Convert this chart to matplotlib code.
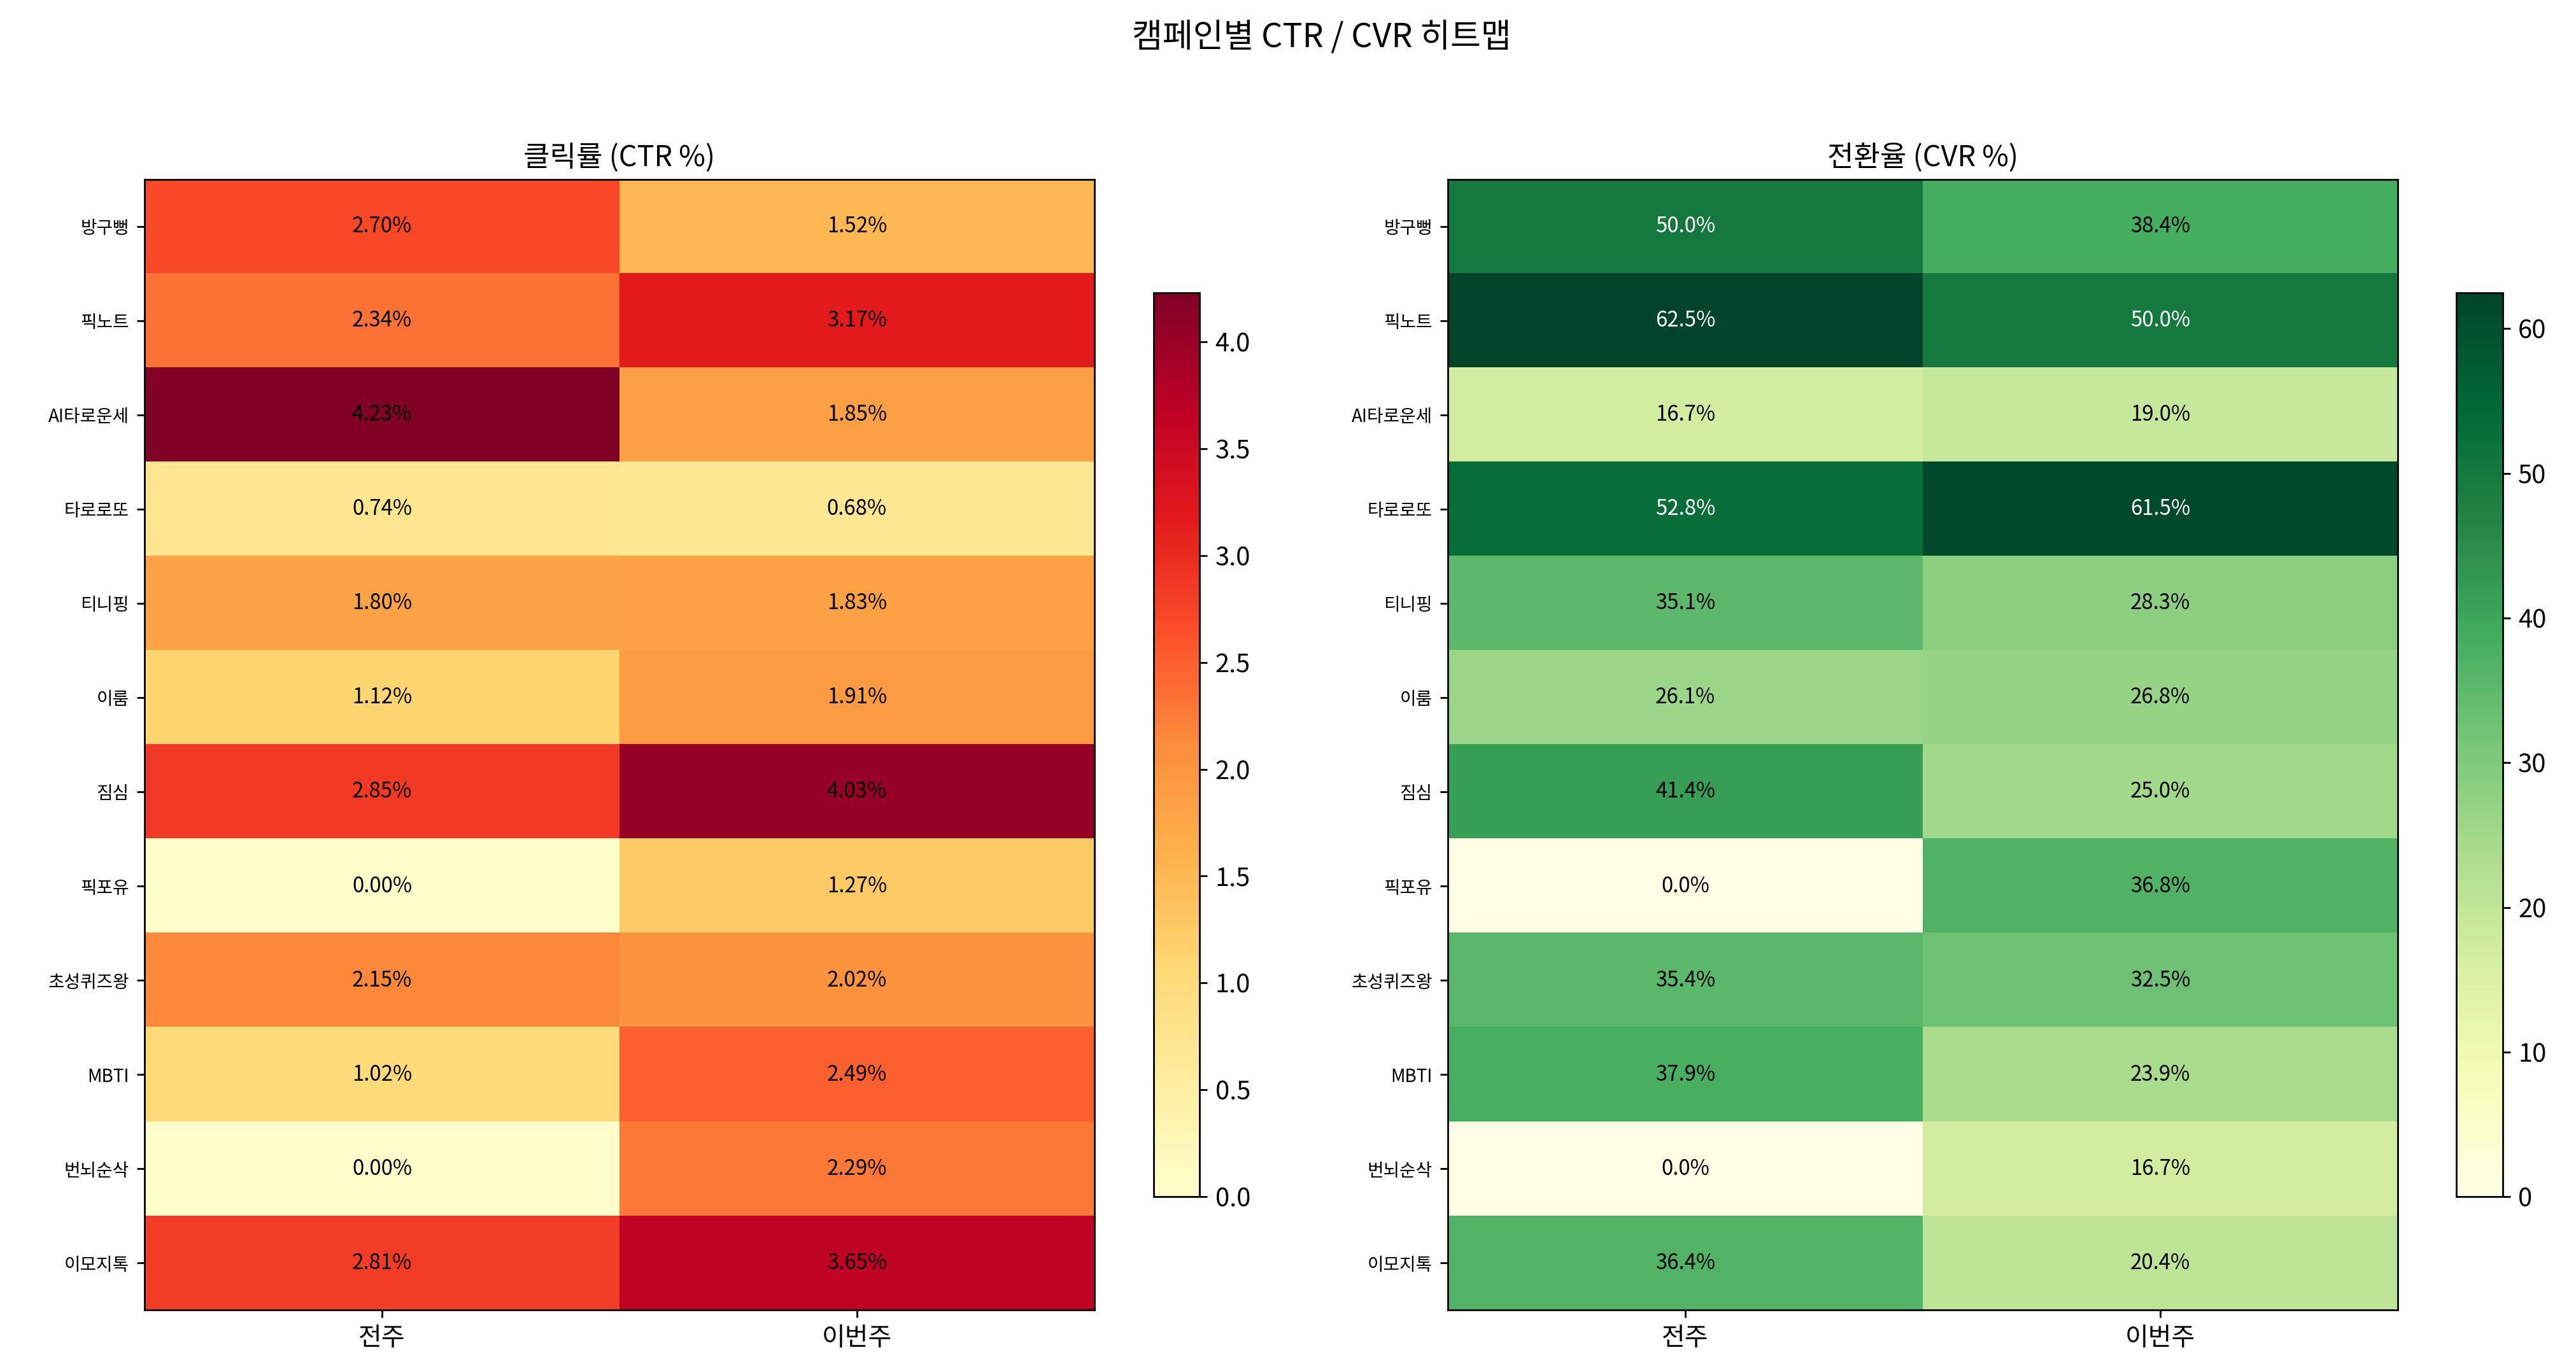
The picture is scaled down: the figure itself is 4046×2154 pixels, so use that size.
import numpy as np
import matplotlib
matplotlib.use("Agg")
import matplotlib.pyplot as plt

plt.rcParams['font.family'] = ['Noto Sans CJK KR', 'DejaVu Sans']

campaigns = ['방구뻥', '픽노트', 'AI타로운세', '타로로또', '티니핑', '이룸', '짐심',
             '픽포유', '초성퀴즈왕', 'MBTI', '번뇌순삭', '이모지톡']
weeks = ['전주', '이번주']

ctr_prev = [2.70, 2.34, 4.23, 0.74, 1.80, 1.12, 2.85, 0.00, 2.15, 1.02, 0.00, 2.81]
ctr_curr = [1.52, 3.17, 1.85, 0.68, 1.83, 1.91, 4.03, 1.27, 2.02, 2.49, 2.29, 3.65]
cvr_prev = [50.0, 62.5, 16.7, 52.8, 35.1, 26.1, 41.4, 0.0, 35.4, 37.9, 0.0, 36.4]
cvr_curr = [38.4, 50.0, 19.0, 61.5, 28.3, 26.8, 25.0, 36.8, 32.5, 23.9, 16.7, 20.4]

ctr = np.column_stack([ctr_prev, ctr_curr])
cvr = np.column_stack([cvr_prev, cvr_curr])

fig = plt.figure(figsize=(16.188, 8.616))
fig.suptitle('캠페인별 CTR / CVR 히트맵', fontsize=15, x=0.513, y=0.985)

# (data, cmap, title, label format, white-text threshold, axes pos, colorbar pos)
panels = [
    (ctr, 'YlOrRd', '클릭률 (CTR %)', '{:.2f}%', None, [0.0561, 0.0444, 0.3686, 0.8249], [0.4477, 0.1271, 0.0179, 0.6595]),
    (cvr, 'YlGn', '전환율 (CVR %)', '{:.1f}%', 0.7, [0.5619, 0.0444, 0.3686, 0.8249], [0.9534, 0.1271, 0.0179, 0.6595]),
]

for data, cmap, title, fmt, thr, pos, cpos in panels:
    ax = fig.add_axes(pos)
    im = ax.imshow(data, cmap=cmap, aspect='auto')
    ax.set_xticks(range(len(weeks)))
    ax.set_xticklabels(weeks, fontsize=11.5)
    ax.set_yticks(range(len(campaigns)))
    ax.set_yticklabels(campaigns, fontsize=8)
    ax.set_title(title, fontsize=13)
    vmax = data.max()
    for i in range(data.shape[0]):
        for j in range(data.shape[1]):
            v = data[i, j]
            color = 'white' if (thr is not None and v > vmax * thr) else 'black'
            ax.text(j, i, fmt.format(v), ha='center', va='center', fontsize=9.5, color=color)
    cax = fig.add_axes(cpos)
    cb = fig.colorbar(im, cax=cax)
    cb.ax.tick_params(labelsize=11.5)

fig.savefig('out.png', dpi=250)
